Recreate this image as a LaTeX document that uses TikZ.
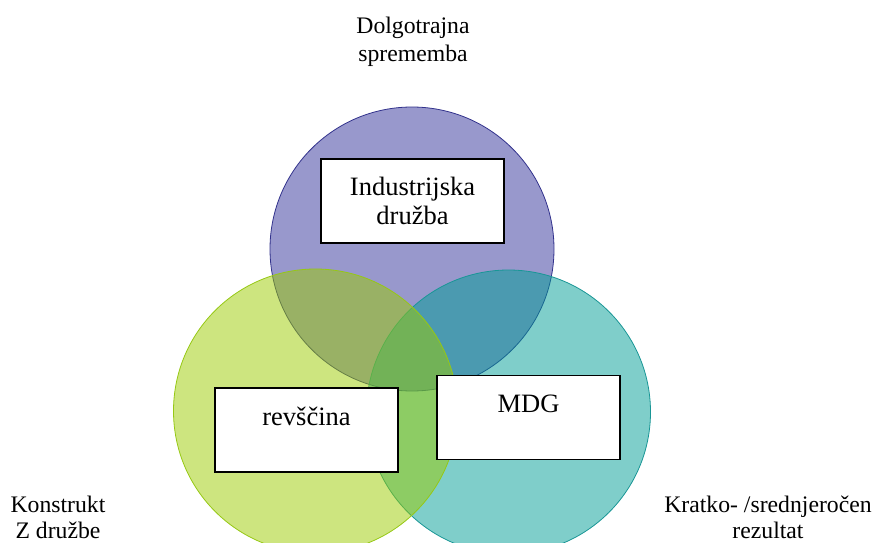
\documentclass[tikz,border=0pt]{standalone}
\usepackage{fontspec}
\setmainfont{Liberation Serif}
\definecolor{setpurple}{RGB}{49,49,153}
\definecolor{setteal}{RGB}{0,157,149}
\definecolor{setgreen}{RGB}{155,203,0}
\definecolor{edgepurple}{RGB}{50,50,140}
\definecolor{edgeteal}{RGB}{25,150,150}
\definecolor{edgegreen}{RGB}{150,200,20}
\begin{document}
\begin{tikzpicture}[x=1pt,y=-1pt,
  set/.style={circle, minimum size=284pt, inner sep=0pt, fill opacity=0.5, line width=0.8pt},
  box/.style={draw=black, line width=1.6pt, fill=white, inner sep=0pt,
    minimum width=183pt, minimum height=84pt, align=center,
    font=\fontsize{26.5}{29}\selectfont},
  boxtext/.style={font=\fontsize{26.5}{29}\selectfont, anchor=base, inner sep=0pt},
  side/.style={font=\fontsize{23.7}{28}\selectfont, align=center, anchor=north, inner sep=0pt},
  sidelow/.style={side, font=\fontsize{23.7}{25.5}\selectfont}]
\useasboundingbox (0,0) rectangle (873,543);

% three overlapping sets
\node[set, fill=setpurple, draw=edgepurple] (industry) at (412,249) {};
\node[set, fill=setteal, draw=edgeteal] (mdgset) at (508.5,412) {};
\node[set, fill=setgreen, draw=edgegreen] (poverty) at (315.5,411) {};

% labelled boxes
\node[box] (indbox) at (412.5,201) {Industrijska\\družba};
\node[box] (revbox) at (306.5,430) {};
\node[boxtext] (revtext) at (306.5,425) {revščina};
\node[box] (mdgbox) at (528.5,417.5) {};
\node[boxtext] (mdgtext) at (528.5,412) {MDG};

% axis captions
\node[side] (longterm) at (413,16.5) {Dolgotrajna\\sprememba};
\node[sidelow] (construct) at (58,496) {Konstrukt\\Z družbe};
\node[sidelow] (shortterm) at (768,496) {Kratko- /srednjeročen\\rezultat};
\end{tikzpicture}
\end{document}
